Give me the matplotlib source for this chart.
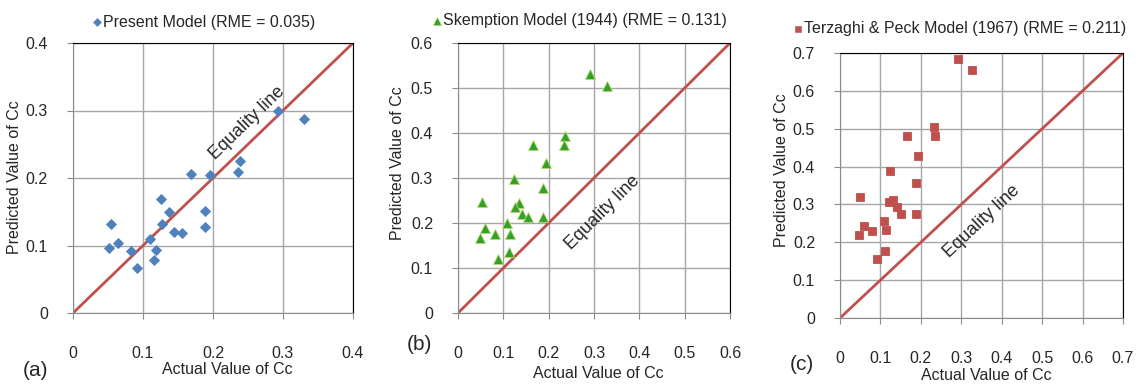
import numpy as np
import matplotlib.pyplot as plt

# datos
actual_a = [0.051, 0.054, 0.064, 0.083, 0.091, 0.110, 0.115, 0.119, 0.126, 0.127, 0.137,
            0.144, 0.156, 0.169, 0.189, 0.189, 0.195, 0.236, 0.238, 0.293, 0.330]
pred_a = [0.097, 0.132, 0.104, 0.092, 0.066, 0.110, 0.079, 0.094, 0.169, 0.132, 0.149,
          0.120, 0.119, 0.206, 0.151, 0.128, 0.204, 0.209, 0.225, 0.300, 0.287]

actual_b = [0.291, 0.328, 0.236, 0.233, 0.166, 0.194, 0.123, 0.188, 0.052, 0.135, 0.126,
            0.141, 0.155, 0.188, 0.109, 0.060, 0.081, 0.114, 0.049, 0.112, 0.089]
pred_b = [0.532, 0.505, 0.393, 0.373, 0.373, 0.333, 0.298, 0.278, 0.247, 0.244, 0.236,
          0.221, 0.213, 0.213, 0.199, 0.190, 0.176, 0.176, 0.167, 0.136, 0.121]

actual_c = [0.292, 0.326, 0.233, 0.235, 0.166, 0.194, 0.124, 0.188, 0.049, 0.132, 0.122,
            0.142, 0.152, 0.188, 0.108, 0.060, 0.078, 0.114, 0.048, 0.111, 0.091]
pred_c = [0.684, 0.655, 0.505, 0.482, 0.482, 0.428, 0.387, 0.356, 0.319, 0.313, 0.306,
          0.292, 0.275, 0.275, 0.257, 0.244, 0.229, 0.233, 0.218, 0.178, 0.156]

titulos = ['Present Model (RME = 0.035)',
           'Skemption Model (1944) (RME = 0.131)',
           'Terzaghi & Peck Model (1967) (RME = 0.211)']
etiquetas = ['(a)', '(b)', '(c)']
limites = [0.4, 0.6, 0.7]


def main():
  plt.rcParams['font.family'] = ['Liberation Sans', 'DejaVu Sans']
  tam = 11.5
  gris = '#8c8c8c'
  rojo = '#c0504d'
  texto = '#262626'

  fig = plt.figure(figsize=(11.39, 3.84), dpi=100)
  W, H = 1139, 384

  #* posiciones en pixeles: izquierda, abajo, ancho, alto
  cajas = [(73, 313, 280, 270), (458, 313, 272, 270), (840, 318, 283, 265)]
  datos = [(actual_a, pred_a, 'D', '#4f81bd', 5.2, None),
           (actual_b, pred_b, '^', '#33a02c', 6.8, '#b5d96b'),
           (actual_c, pred_c, 's', rojo, 6.2, None)]
  #* posiciones de textos (pixeles)
  pos_titulo = [(97, 22), (437, 21), (798, 29)]
  pos_letra = [(35, 371), (419, 345), (802, 365)]
  pos_ylabel = [(15, 177), (398, 163), (782, 170)]
  pos_xlabel = [(227, 370), (598, 373), (986, 376)]
  pos_eq = [(0.249, 0.281), (0.320, 0.224), (0.351, 0.254)]

  for i in range(3):
    l, b, w, h = cajas[i]
    ax = fig.add_axes([l / W, 1 - b / H, w / W, h / H])
    lim = limites[i]
    ax.set_xlim(0, lim)
    ax.set_ylim(0, lim)
    ticks = np.round(np.arange(0, lim + 0.001, 0.1), 1)
    ax.set_xticks(ticks)
    ax.set_yticks(ticks)
    ax.set_xticklabels(['0' if t == 0 else f'{t:.1f}' for t in ticks])
    ax.set_yticklabels(['0' if t == 0 else f'{t:.1f}' for t in ticks])
    ax.grid(True, color='#a6a6a6', lw=1)
    ax.set_axisbelow(True)
    for s in ['left', 'bottom']:
      ax.spines[s].set_color(gris)
    for s in ['top', 'right']:
      ax.spines[s].set_color('black')
    ax.tick_params(axis='both', direction='out', length=4, color=gris, labelsize=tam,
                   labelcolor=texto)
    ax.tick_params(axis='x', pad=20)
    ax.tick_params(axis='y', pad=14)

    #! linea de igualdad
    ax.plot([0, lim], [0, lim], color=rojo, lw=2, zorder=2)
    x, y, m, c, ms, ec = datos[i]
    ax.plot(x, y, m, color=c, ms=ms, mec=ec if ec else c, mew=0.6, zorder=3, clip_on=False)

    ang = np.degrees(np.arctan2(h, w))
    ax.text(*pos_eq[i], 'Equality line', rotation=ang, fontsize=13,
            ha='center', va='center', color=texto)

    #* titulo con marcador
    tx, ty = pos_titulo[i]
    fig.lines.append(plt.Line2D([tx / W], [1 - ty / H], marker=m, color=c, ms=ms * 0.8,
                                mec=ec if ec else c, mew=0.4, transform=fig.transFigure,
                                figure=fig))
    fig.text((tx + 6) / W, 1 - ty / H, titulos[i], fontsize=tam, ha='left', va='center',
             color=texto)

    lx, ly = pos_letra[i]
    fig.text(lx / W, 1 - ly / H, etiquetas[i], fontsize=15, ha='center', va='center',
             color=texto)
    yx, yy = pos_ylabel[i]
    fig.text(yx / W, 1 - yy / H, 'Predicted Value of Cc', fontsize=tam, rotation=90,
             ha='center', va='center', color=texto)
    xx, xy = pos_xlabel[i]
    fig.text(xx / W, 1 - xy / H, 'Actual Value of Cc', fontsize=tam, ha='center',
             va='center', color=texto)

  fig.savefig('out.png', dpi=100)


if __name__ == "__main__":
  main()
